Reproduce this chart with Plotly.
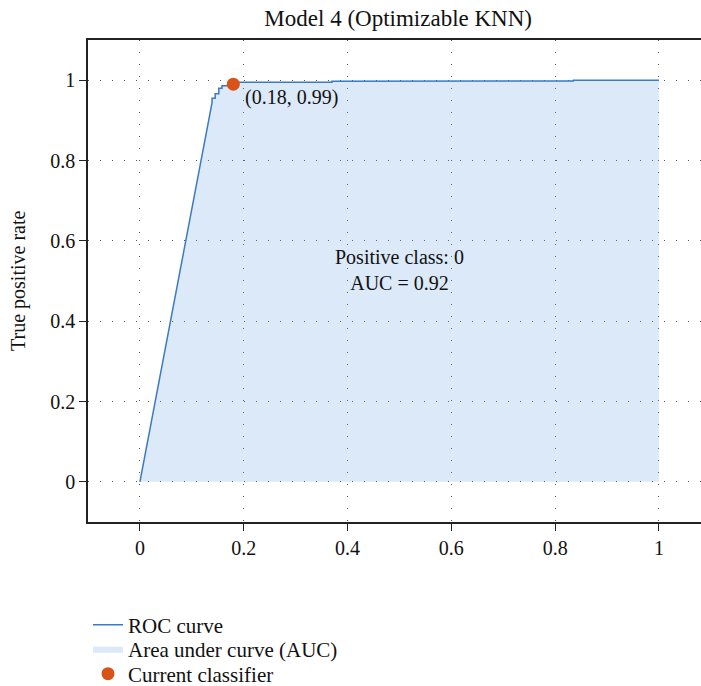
import plotly.graph_objects as go

# ROC data
fpr = [0, 0.139, 0.139, 0.145, 0.145, 0.152, 0.152, 0.158, 0.158, 0.175, 0.175,
       0.37, 0.37, 0.59, 0.59, 0.835, 0.835, 1.0]
tpr = [0, 0.944, 0.955, 0.955, 0.966, 0.966, 0.98, 0.98, 0.986, 0.986, 0.995,
       0.995, 0.997, 0.997, 0.998, 0.998, 1.0, 1.0]
current_fpr = [0.18]
current_tpr = [0.99]
tick_vals = [0, 0.2, 0.4, 0.6, 0.8, 1]
tick_text = ["0", "0.2", "0.4", "0.6", "0.8", "1"]
title_text = "Model 4 (Optimizable KNN)"
auc_text = "Positive class: 0<br>AUC = 0.92"
x_label = "False positive rate"
y_label = "True positive rate"

FONT = "Liberation Serif"
INK = "#111"
W, H = 701, 686
L, T, B = 88, 40, 686 - 522
PW = W - L

fig = go.Figure()
fig.add_trace(go.Scatter(
    x=fpr, y=tpr, mode="lines", line=dict(width=0, color="rgba(0,0,0,0)"),
    fill="tozeroy", fillcolor="rgba(110,165,225,0.24)",
    name="Area under curve (AUC)", hoverinfo="skip", legend="legend2"))
fig.add_trace(go.Scatter(
    x=fpr, y=tpr, mode="lines", line=dict(width=1.5, color="#3c7ac2"),
    name="ROC curve", legend="legend"))
fig.add_trace(go.Scatter(
    x=current_fpr, y=current_tpr, mode="markers",
    marker=dict(size=13, color="#d95319"), name="Current classifier", legend="legend3"))

fig.add_annotation(x=current_fpr[0], y=current_tpr[0], xref="x", yref="y",
                   text="(%.2f, %.2f)" % (current_fpr[0], current_tpr[0]),
                   showarrow=False, xanchor="left", yanchor="middle",
                   xshift=10, yshift=-13, font=dict(family=FONT, size=20, color=INK))
fig.add_annotation(x=0.5, y=0.527, xref="x", yref="y", text=auc_text,
                   showarrow=False, xanchor="center", yanchor="middle",
                   font=dict(family=FONT, size=20, color=INK))
fig.add_annotation(x=0.5, y=-0.227, xref="x", yref="y", text=x_label,
                   showarrow=False, xanchor="center", yanchor="middle",
                   font=dict(family=FONT, size=20, color=INK))
fig.add_annotation(x=(18 - L) / PW, y=0.5, xref="paper", yref="paper", text=y_label,
                   showarrow=False, xanchor="center", yanchor="middle", textangle=-90,
                   font=dict(family=FONT, size=20, color=INK))

axis_common = dict(
    showline=True, linecolor="#222", linewidth=1.5,
    ticks="outside", ticklen=7, tickwidth=1.2, tickcolor="#222",
    showgrid=True, gridcolor="#555", gridwidth=1, griddash="1px,11px",
    zeroline=False, tickvals=tick_vals, ticktext=tick_text,
    tickfont=dict(family=FONT, size=20, color=INK),
)


def legend_at(yc):
    return dict(x=88 / W, xref="container", y=1 - yc / H, yref="container",
                xanchor="left", yanchor="middle", bgcolor="rgba(0,0,0,0)",
                font=dict(family=FONT, size=21, color=INK),
                tracegroupgap=0, itemwidth=30)


fig.update_layout(
    width=W, height=H,
    margin=dict(l=L, r=0, t=T, b=B, pad=0, autoexpand=False),
    paper_bgcolor="white", plot_bgcolor="white",
    title=dict(text=title_text, x=0.506, xref="paper", xanchor="center",
               y=1 - 18 / H, yref="container", yanchor="middle",
               font=dict(family=FONT, size=23, color=INK)),
    xaxis=dict(range=[-0.1, 1.081], mirror=True, **axis_common),
    yaxis=dict(range=[-0.1, 1.1], mirror=False, **axis_common),
    showlegend=True,
    legend=legend_at(625),
    legend2=legend_at(649),
    legend3=legend_at(674),
)

fig.write_html("out.html", config={"displayModeBar": False},
               post_script="document.body.style.margin='0';document.body.style.overflow='hidden';")
